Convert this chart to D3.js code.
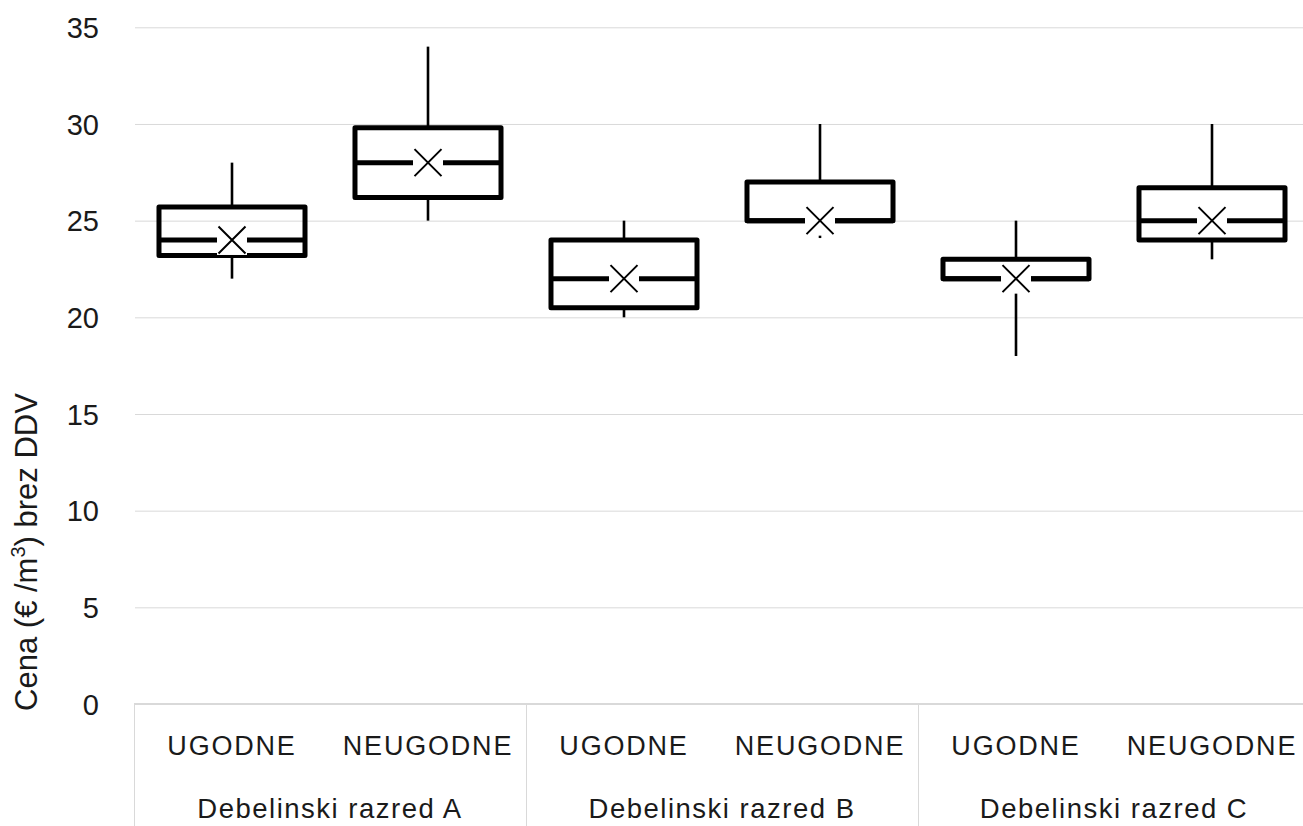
<!DOCTYPE html>
<html>
<head>
<meta charset="utf-8">
<script src="https://cdn.jsdelivr.net/npm/d3@7"></script>
<style>
  html, body { margin: 0; padding: 0; background: #fff; }
  svg { display: block; }
  text { font-family: "Liberation Sans", Arial, sans-serif; fill: #1a1a1a; }
</style>
</head>
<body>
<svg id="chart" width="1303" height="826"></svg>
<script>
// ---- data ----
const groups = ["Debelinski razred A", "Debelinski razred B", "Debelinski razred C"];
const categories = ["UGODNE", "NEUGODNE"];
const whiskerLow  = [22.0, 25.0, 20.0, 24.1, 18.0, 23.0];
const q1          = [23.2, 26.2, 20.5, 25.0, 22.0, 24.0];
const median      = [24.0, 28.0, 22.0, 25.0, 22.0, 25.0];
const q3          = [25.7, 29.8, 24.0, 27.0, 23.0, 26.7];
const whiskerHigh = [28.0, 34.0, 25.0, 30.0, 25.0, 30.0];
const mean        = [24.0, 28.0, 22.0, 25.0, 22.0, 25.0];
const yTicks = [0, 5, 10, 15, 20, 25, 30, 35];

const rows = [];
groups.forEach((g, gi) => categories.forEach((c, ci) => {
  const i = gi * categories.length + ci;
  rows.push({ group: g, cat: c, lo: whiskerLow[i], q1: q1[i], med: median[i], q3: q3[i], hi: whiskerHigh[i], mean: mean[i] });
}));

// ---- layout ----
const svg = d3.select("#chart");
const x0 = 134, x1 = 1310, yBottom = 704, yTop = 27.3, H = 826;

const y = d3.scaleLinear().domain([0, 35]).range([yBottom, yTop]);
const xg = d3.scaleBand().domain(groups).range([x0, x1]);
const xc = d3.scaleBand().domain(categories).range([0, xg.bandwidth()]);
const boxW = xc.bandwidth() * 0.745;
const cx = d => xg(d.group) + xc(d.cat) + xc.bandwidth() / 2;

// gridlines
const grid = svg.append("g")
  .attr("transform", `translate(${x0 + 1},0)`)
  .call(d3.axisLeft(y).tickValues(yTicks.filter(t => t > 0)).tickSize(-(1303 - x0)).tickFormat(""));
grid.select(".domain").remove();
grid.selectAll(".tick line").attr("stroke", "#d9d9d9").attr("stroke-width", 1);

// y tick labels
const yAx = svg.append("g")
  .attr("transform", `translate(99,0)`)
  .call(d3.axisLeft(y).tickValues(yTicks).tickSize(0).tickPadding(0));
yAx.select(".domain").remove();
yAx.selectAll("text").attr("font-size", 29).attr("font-family", "Liberation Sans, Arial, sans-serif")
  .attr("fill", "#1a1a1a").attr("text-anchor", "end").attr("dy", "0.35em").attr("x", 0);

// y title
const title = svg.append("text")
  .attr("transform", `translate(37,552) rotate(-90)`)
  .attr("text-anchor", "middle")
  .attr("font-size", 31);
title.append("tspan").text("Cena (€ /m");
title.append("tspan").text("3").attr("font-size", 20).attr("dy", -12);
title.append("tspan").text(") brez DDV").attr("dy", 12);

// category axis frame
svg.append("line").attr("x1", x0).attr("x2", 1303).attr("y1", yBottom).attr("y2", yBottom)
  .attr("stroke", "#d9d9d9").attr("stroke-width", 2);
svg.selectAll("line.div").data(groups).join("line").attr("class", "div")
  .attr("x1", d => xg(d) + 0.5).attr("x2", d => xg(d) + 0.5)
  .attr("y1", yBottom).attr("y2", H)
  .attr("stroke", "#d9d9d9").attr("stroke-width", 1);

// category labels
svg.selectAll("text.cat").data(rows).join("text").attr("class", "cat")
  .attr("x", d => cx(d)).attr("y", 755)
  .attr("text-anchor", "middle").attr("font-size", 27).attr("letter-spacing", 1.8)
  .text(d => d.cat);
svg.selectAll("text.grp").data(groups).join("text").attr("class", "grp")
  .attr("x", d => xg(d) + xg.bandwidth() / 2).attr("y", 818)
  .attr("text-anchor", "middle").attr("font-size", 27.5).attr("letter-spacing", 1.5)
  .text(d => d);

// boxes
const b = svg.append("g").selectAll("g").data(rows).join("g");
b.append("line").attr("x1", cx).attr("x2", cx).attr("y1", d => y(d.q3)).attr("y2", d => y(d.hi))
  .attr("stroke", "#000").attr("stroke-width", 2.6);
b.append("line").attr("x1", cx).attr("x2", cx).attr("y1", d => y(d.q1)).attr("y2", d => y(d.lo))
  .attr("stroke", "#000").attr("stroke-width", 2.6);
b.append("rect")
  .attr("x", d => cx(d) - boxW / 2).attr("width", boxW)
  .attr("y", d => y(d.q3)).attr("height", d => y(d.q1) - y(d.q3))
  .attr("fill", "none").attr("stroke", "#000").attr("stroke-width", 5).attr("stroke-linejoin", "round");
b.append("line").attr("x1", d => cx(d) - boxW / 2).attr("x2", d => cx(d) + boxW / 2)
  .attr("y1", d => y(d.med)).attr("y2", d => y(d.med))
  .attr("stroke", "#000").attr("stroke-width", 5);
// mean marker
const m = 14;
b.append("rect").attr("x", d => cx(d) - m - 1).attr("y", d => y(d.mean) - m - 1)
  .attr("width", 2 * m + 2).attr("height", 2 * m + 2).attr("fill", "#fff");
b.append("path")
  .attr("d", d => { const X = cx(d), Y = y(d.mean), s = 13.5;
    return `M${X - s},${Y - s}L${X + s},${Y + s}M${X - s},${Y + s}L${X + s},${Y - s}`; })
  .attr("stroke", "#000").attr("stroke-width", 2).attr("fill", "none");
</script>
</body>
</html>
